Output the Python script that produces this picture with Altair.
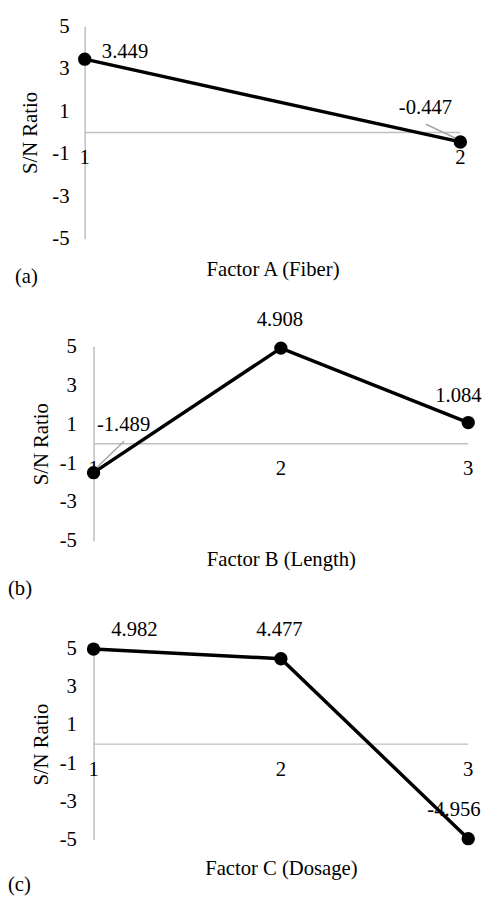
import altair as alt
import pandas as pd

FONT = "'Liberation Serif', 'Times New Roman', Times, serif"
FS = 21

a_levels = [1, 2]
a_values = [3.449, -0.447]
b_levels = [1, 2, 3]
b_values = [-1.489, 4.908, 1.084]
c_levels = [1, 2, 3]
c_values = [4.982, 4.477, -4.956]
x_titles = ["Factor A (Fiber)", "Factor B (Length)", "Factor C (Dosage)"]
tags = ["(a)", "(b)", "(c)"]
y_ticks = [-5, -3, -1, 1, 3, 5]
y_title = "S/N Ratio"

GRAY = "#bfbfbf"
LEADER = "#a6a6a6"


def panel(levels, values, xtitle, tag, width, height, xrange, yoffset,
          lab_offsets, leader, xtitle_pad, ytitle_pad, ylabel_pad, tag_dx, tag_dy):
    df = pd.DataFrame({
        "level": levels,
        "sn": values,
        "lvl": [str(l) for l in levels],
        "lab": [f"{v:.3f}" for v in values],
    })
    lo, hi = min(levels), max(levels)
    xscale = alt.Scale(domain=[lo, hi], range=xrange, nice=False, zero=False)
    yscale = alt.Scale(domain=[-5, 5], nice=False, zero=False)
    xaxis = alt.Axis(labels=False, ticks=False, domain=False, grid=False,
                     title=xtitle, titlePadding=xtitle_pad, titleFont=FONT,
                     titleFontSize=FS, titleFontWeight="normal", titleColor="black")
    yaxis = alt.Axis(values=y_ticks, ticks=False, grid=False, domainColor=GRAY,
                     domainWidth=1.5, labelFont=FONT, labelFontSize=FS,
                     labelColor="black", labelPadding=ylabel_pad, labelOverlap=False,
                     labelExpr="datum.value < 0 ? '-' + abs(datum.value) : '' + datum.value",
                     title=y_title, titleFont=FONT, titleFontSize=FS,
                     titleFontWeight="normal", titleColor="black",
                     titlePadding=ytitle_pad, offset=yoffset)
    x = alt.X("level:Q", scale=xscale, axis=xaxis)
    y = alt.Y("sn:Q", scale=yscale, axis=yaxis)
    y0 = alt.YDatum(datum=0, type="quantitative", scale=yscale, axis=yaxis)

    base = alt.Chart(df)
    zero = base.mark_rule(color=GRAY, strokeWidth=1.5).encode(
        x=alt.X("min(level):Q", scale=xscale, axis=xaxis),
        x2="max(level):Q",
        y=y0,
    )
    line = base.mark_line(color="black", strokeWidth=3.5).encode(x=x, y=y)
    pts = base.mark_point(filled=True, color="black", size=185, opacity=1).encode(x=x, y=y)
    cat = base.mark_text(font=FONT, fontSize=FS, color="black", dy=26,
                         baseline="middle").encode(x=x, y=y0, text="lvl:N")
    layers = [zero]
    if leader is not None:
        lvl, path = leader
        layers.append(base.transform_filter(alt.datum.level == lvl).mark_point(
            shape=path, size=6400, filled=False, color=LEADER, strokeWidth=1.5,
            opacity=1).encode(x=x, y=y))
    layers += [line, pts, cat]
    for lvl, (dx, dy) in zip(levels, lab_offsets):
        layers.append(base.transform_filter(alt.datum.level == lvl).mark_text(
            font=FONT, fontSize=FS, color="black", dx=dx, dy=dy,
            baseline="middle", align="center").encode(x=x, y=y, text="lab:N"))
    return alt.layer(*layers).properties(
        width=width, height=height,
        title=alt.TitleParams(text=tag, orient="bottom", anchor="start", frame="group",
                              dx=tag_dx, dy=tag_dy, font=FONT, fontSize=FS,
                              fontWeight="normal", color="black"),
    )


pa = panel(a_levels, a_values, x_titles[0], tags[0], 390, 216, [0, 382], 0,
           [(41, -7), (-35.5, -34)], (2, "M -0.875 -0.45 L -0.025 -0.05"),
           20, 12, 16, -71, -17)
pb = panel(b_levels, b_values, x_titles[1], tags[1], 390, 198, [9, 390], -9,
           [(30.5, -48.5), (-1, -28), (-10, -27)], (1, "M 0.775 -0.8 L 0.1 -0.15"),
           8, 8, 17.5, -78, 5)
pc = panel(c_levels, c_values, x_titles[2], tags[2], 390, 194, [9, 390], -9,
           [(41.5, -19), (-1.5, -29), (-14.5, -29.5)], None,
           19, 8, 17.5, -78, -9)

chart = alt.vconcat(pa, pb, pc, spacing=109.5, bounds="flush").properties(
    padding={"left": 0, "top": 0, "right": 0, "bottom": 0}
).configure_view(stroke=None)

chart.save("out.html", embed_options={"renderer": "svg", "actions": False})
